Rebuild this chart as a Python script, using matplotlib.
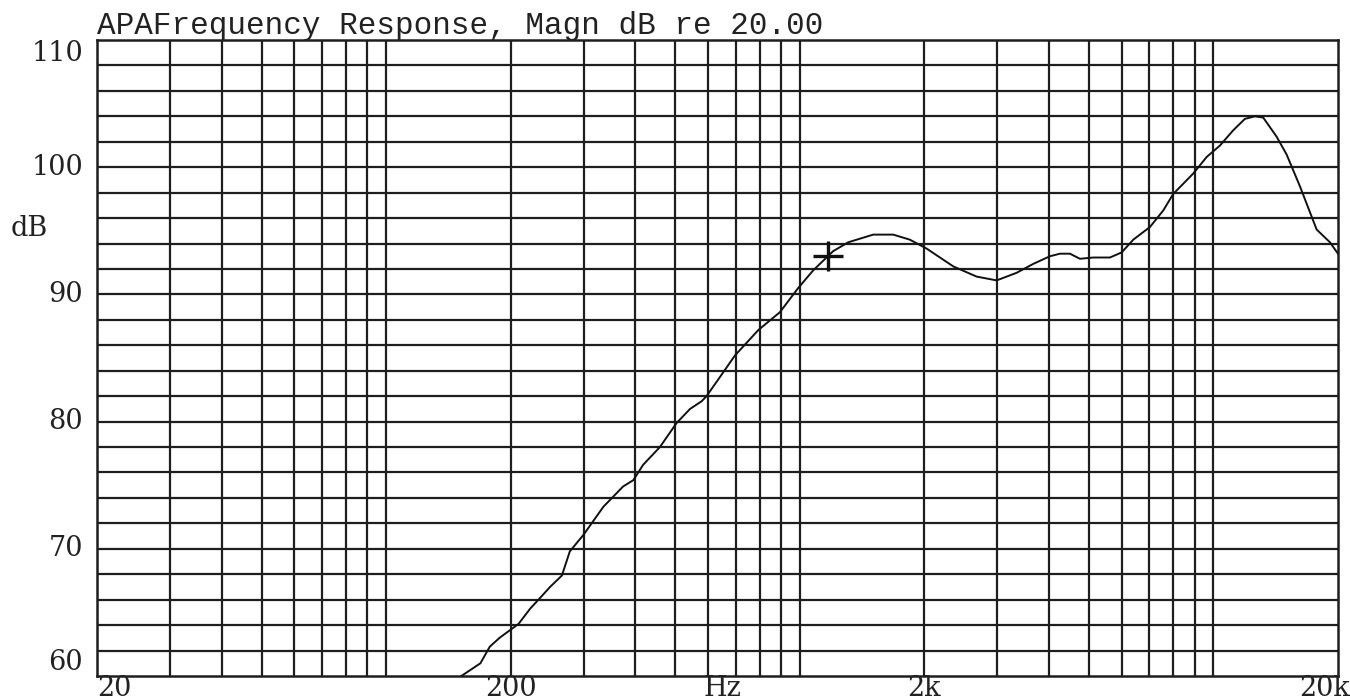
import matplotlib
matplotlib.use("Agg")
import matplotlib.pyplot as plt
from matplotlib.transforms import blended_transform_factory

# ---- data ----
freq_hz = [152, 169, 178, 188, 209, 223, 235, 249, 266, 278, 300, 335, 374, 396, 418,
           459, 504, 543, 579, 595, 641, 697, 794, 895, 991, 1078, 1204, 1310, 1505,
           1682, 1846, 2026, 2350, 2676, 2991, 3344, 3668, 4024, 4254, 4498, 4756, 5122,
           5618, 5999, 6398, 7022, 7562, 7994, 8934, 9626, 10364, 11161, 11912, 12594,
           13190, 14212, 15024, 16180, 17758, 19118, 20000]
spl_db = [60.0, 61.0, 62.3, 63.0, 64.1, 65.3, 66.1, 67.0, 67.9, 69.8, 71.1, 73.3, 74.9,
          75.4, 76.6, 78.0, 79.9, 81.0, 81.6, 82.0, 83.5, 85.2, 87.2, 88.6, 90.5, 91.9,
          93.4, 94.1, 94.7, 94.7, 94.3, 93.6, 92.2, 91.4, 91.1, 91.7, 92.4, 93.0, 93.2,
          93.2, 92.8, 92.9, 92.9, 93.3, 94.3, 95.3, 96.6, 97.9, 99.5, 100.8, 101.7, 102.9,
          103.8, 104.0, 103.9, 102.4, 101.0, 98.5, 95.1, 94.1, 93.2]

cursor_hz = [1170]
cursor_db = [93.0]

x_grid = [30, 40, 50, 60, 70, 80, 90, 100, 200, 300, 400, 500, 600, 700, 800, 900,
          1000, 2000, 3000, 4000, 5000, 6000, 7000, 8000, 9000, 10000]
y_grid = list(range(62, 110, 2))

x_tick_vals = [20, 200, 650, 2000, 20000]
x_tick_labels = ["20", "200", "Hz", "2k", "20k"]
y_tick_vals = [110, 100, 90, 80, 70, 60]
y_tick_labels = ["110", "100", "90", "80", "70", "60"]

title_text = "APAFrequency Response, Magn dB re 20.00"
y_unit = "dB"

# ---- figure ----
fig = plt.figure(figsize=(13.5, 7), dpi=100)
ax = fig.add_axes([97 / 1350, 1 - 676 / 700, (1338 - 97) / 1350, (676 - 40) / 700])
ax.set_xscale("log")
ax.set_xlim(20, 20000)
ax.set_ylim(60, 110)

gcol = "#1e1e1e"
for xv in x_grid:
    ax.axvline(xv, color=gcol, lw=1.6, zorder=1)
for yv in y_grid:
    ax.axhline(yv, color=gcol, lw=1.6, zorder=1)
for s in ax.spines.values():
    s.set_color(gcol)
    s.set_linewidth(1.8)

ax.set_xticks([])
ax.set_yticks([])
ax.minorticks_off()

ax.plot(freq_hz, spl_db, color="#111111", lw=1.4, zorder=3)
ax.plot(cursor_hz, cursor_db, marker="+", markersize=22, mew=2.4, color="#111111",
        linestyle="none", zorder=4)

font = dict(family="DejaVu Serif", size=19.5, color="#222222")

# x labels
tx = blended_transform_factory(ax.transData, fig.transFigure)
for v, lab in zip(x_tick_vals, x_tick_labels):
    if lab == "20":
        ax.text(v, 1 - 689 / 700, lab, transform=tx, ha="left", va="center", **font)
    elif lab == "20k":
        fig.text(1350 / 1350, 1 - 689 / 700, lab, ha="right", va="center", **font)
    else:
        ax.text(v, 1 - 689 / 700, lab, transform=tx, ha="center", va="center", **font)

# y labels
ty = blended_transform_factory(fig.transFigure, ax.transData)
for v, lab in zip(y_tick_vals, y_tick_labels):
    va = "center"
    if v == 110:
        va = "top"
    elif v == 60:
        va = "bottom"
    ax.text(83 / 1350, v, lab, transform=ty, ha="right", va=va, **font)

ax.text(11 / 1350, 95.2, y_unit, transform=ty, ha="left", va="center", **font)

fig.text(97 / 1350, 1 - 34 / 700, title_text, ha="left", va="baseline",
         family="Liberation Mono", size=22.3, color="#222222")

fig.savefig("out.png", dpi=100, facecolor="white")
